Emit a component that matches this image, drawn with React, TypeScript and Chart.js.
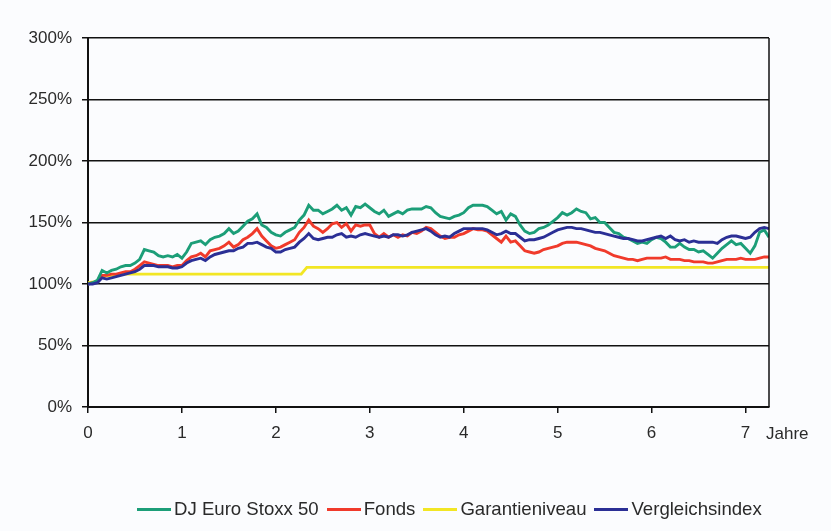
import React, { useEffect, useRef } from "react";
import { Chart, registerables } from "chart.js";

Chart.register(...registerables);

// ---- data ----
const YEARS = [
  0, 0.05, 0.1, 0.15, 0.2, 0.25, 0.3, 0.35, 0.4, 0.45, 0.5, 0.55, 0.6, 0.65, 0.7, 0.75, 0.8, 0.85, 0.9, 0.95,
  1, 1.05, 1.1, 1.15, 1.2, 1.25, 1.3, 1.35, 1.4, 1.45, 1.5, 1.55, 1.6, 1.65, 1.7, 1.75, 1.8, 1.85, 1.9, 1.95,
  2, 2.05, 2.1, 2.15, 2.2, 2.25, 2.3, 2.35, 2.4, 2.45, 2.5, 2.55, 2.6, 2.65, 2.7, 2.75, 2.8, 2.85, 2.9, 2.95,
  3, 3.05, 3.1, 3.15, 3.2, 3.25, 3.3, 3.35, 3.4, 3.45, 3.5, 3.55, 3.6, 3.65, 3.7, 3.75, 3.8, 3.85, 3.9, 3.95,
  4, 4.05, 4.1, 4.15, 4.2, 4.25, 4.3, 4.35, 4.4, 4.45, 4.5, 4.55, 4.6, 4.65, 4.7, 4.75, 4.8, 4.85, 4.9, 4.95,
  5, 5.05, 5.1, 5.15, 5.2, 5.25, 5.3, 5.35, 5.4, 5.45, 5.5, 5.55, 5.6, 5.65, 5.7, 5.75, 5.8, 5.85, 5.9, 5.95,
  6, 6.05, 6.1, 6.15, 6.2, 6.25, 6.3, 6.35, 6.4, 6.45, 6.5, 6.55, 6.6, 6.65, 6.7, 6.75, 6.8, 6.85, 6.9, 6.95,
  7, 7.05, 7.1, 7.15, 7.2, 7.25,
];

const STOXX = [
  100, 101, 103, 111, 109, 111, 112, 114, 115, 115, 117, 120, 128, 127, 126, 123, 122, 123, 122, 124,
  121, 126, 133, 134, 135, 132, 136, 138, 139, 141, 145, 141, 143, 147, 151, 153, 157, 148, 146, 142,
  140, 139, 142, 144, 146, 152, 156, 164, 160, 160, 157, 159, 161, 164, 160, 162, 156, 163, 162, 165,
  162, 159, 157, 160, 155, 157, 159, 157, 160, 161, 161, 161, 163, 162, 158, 155, 154, 153, 155, 156,
  158, 162, 164, 164, 164, 163, 160, 157, 159, 152, 157, 155, 148, 143, 141, 142, 145, 146, 148, 151,
  154, 158, 156, 158, 161, 159, 158, 153, 154, 150, 150, 146, 142, 141, 138, 137, 135, 133, 134, 133,
  136, 138, 137, 134, 130, 130, 133, 130, 128, 128, 126, 127, 124, 121, 125, 129, 132, 135, 132, 133,
  129, 125, 131, 142, 144, 138,
];

const FONDS = [
  100, 101, 102, 107, 107, 108, 108, 109, 110, 110, 112, 115, 118, 117, 116, 115, 115, 115, 114, 115,
  115, 119, 122, 123, 125, 122, 127, 128, 129, 131, 134, 130, 132, 136, 138, 141, 145, 139, 135, 131,
  129, 130, 132, 134, 136, 142, 146, 152, 147, 145, 142, 145, 149, 150, 146, 149, 143, 148, 147, 148,
  148, 141, 138, 141, 138, 140, 138, 140, 139, 142, 141, 143, 146, 145, 142, 139, 137, 138, 138, 140,
  141, 143, 145, 144, 144, 143, 140, 137, 134, 139, 134, 135, 131, 127, 126, 125, 126, 128, 129, 130,
  131, 133, 134, 134, 134, 133, 132, 131, 129, 128, 127, 125, 123, 122, 121, 120, 120, 119, 120, 121,
  121, 121, 121, 122, 120, 120, 120, 119, 119, 118, 118, 118, 117, 117, 118, 119, 120, 120, 120, 121,
  120, 120, 120, 121, 122, 122,
];

const INDEX = [
  100, 100, 101, 105, 104, 105, 106, 107, 108, 109, 110, 112, 115, 115, 115, 114, 114, 114, 113, 113,
  114, 117, 119, 120, 121, 119, 122, 124, 125, 126, 127, 127, 129, 130, 133, 133, 134, 132, 130, 129,
  126, 126, 128, 129, 130, 134, 137, 141, 137, 136, 137, 138, 138, 140, 141, 138, 139, 138, 140, 141,
  140, 139, 138, 139, 138, 140, 140, 139, 140, 142, 143, 144, 145, 143, 140, 138, 139, 138, 141, 143,
  145, 145, 145, 145, 145, 144, 142, 140, 141, 143, 141, 141, 138, 135, 136, 136, 137, 138, 140, 142,
  144, 145, 146, 146, 145, 145, 144, 143, 142, 142, 141, 140, 139, 138, 137, 137, 136, 135, 135, 136,
  137, 138, 139, 137, 139, 136, 135, 136, 134, 135, 134, 134, 134, 134, 133, 136, 138, 139, 139, 138,
  137, 138, 142, 145, 146, 145,
];

const GARANTIE_YEARS = [0, 0.1, 0.13, 0.25, 0.4, 2.27, 2.33, 7.25];
const GARANTIE_VALUES = [101, 102, 106, 107, 108, 108, 113.5, 113.5];

const SERIES_NAMES = ["DJ Euro Stoxx 50", "Fonds", "Garantieniveau", "Vergleichsindex"];
const SERIES_COLORS = ["#1c9e78", "#f03a2b", "#f2e624", "#2b2f95"];

const X_TICKS = [0, 1, 2, 3, 4, 5, 6, 7];
const X_MAX = 7.25;
const X_UNIT = "Jahre";
const Y_TICKS = [0, 50, 100, 150, 200, 250, 300];

const BG = "#fbfcfe";
const TEXT = "#2a2a2a";
const LINE = "#111111";
const FONT = '"Liberation Sans", Arial, sans-serif';

export default function App() {
  const ref = useRef<HTMLCanvasElement>(null);

  useEffect(() => {
    document.body.style.margin = "0";
    document.body.style.background = BG;

    const toXY = (vals: number[], xs: number[]) => vals.map((v, i) => ({ x: xs[i], y: v }));

    const extras = {
      id: "extras",
      afterDraw(chart: any) {
        const { ctx, chartArea, scales } = chart;
        ctx.save();
        ctx.strokeStyle = LINE;
        ctx.lineWidth = 1.5;
        ctx.beginPath();
        ctx.moveTo(chartArea.right, chartArea.top);
        ctx.lineTo(chartArea.right, chartArea.bottom);
        ctx.stroke();
        ctx.fillStyle = TEXT;
        ctx.font = `17px ${FONT}`;
        ctx.textAlign = "left";
        ctx.textBaseline = "middle";
        ctx.fillText(X_UNIT, chartArea.right - 3, scales.x.top + 27);
        ctx.restore();
      },
    };

    const chart = new Chart(ref.current!, {
      type: "line",
      data: {
        datasets: [
          { label: SERIES_NAMES[0], data: toXY(STOXX, YEARS), borderColor: SERIES_COLORS[0], order: 1 },
          { label: SERIES_NAMES[1], data: toXY(FONDS, YEARS), borderColor: SERIES_COLORS[1], order: 2 },
          { label: SERIES_NAMES[2], data: toXY(GARANTIE_VALUES, GARANTIE_YEARS), borderColor: SERIES_COLORS[2], order: 3 },
          { label: SERIES_NAMES[3], data: toXY(INDEX, YEARS), borderColor: SERIES_COLORS[3], order: 0 },
        ].map((d) => ({ ...d, borderWidth: 2.9, pointRadius: 0, tension: 0, fill: false })),
      },
      options: {
        responsive: false,
        animation: false,
        devicePixelRatio: 1,
        layout: { padding: { left: 0, right: 62, top: 38, bottom: 0 } },
        plugins: { legend: { display: false }, tooltip: { enabled: false } },
        scales: {
          x: {
            type: "linear",
            min: 0,
            max: X_MAX,
            afterBuildTicks: (s: any) => {
              s.ticks = X_TICKS.map((v) => ({ value: v }));
            },
            afterFit: (s: any) => {
              s.height = 124;
            },
            grid: { drawOnChartArea: false, drawTicks: true, tickLength: 6, color: LINE, lineWidth: 1.5 },
            border: { display: true, color: LINE, width: 2 },
            ticks: {
              padding: 10,
              color: TEXT,
              font: { family: FONT, size: 17 },
              maxRotation: 0,
              autoSkip: false,
              callback: (v: any) => String(v),
            },
          },
          y: {
            min: 0,
            max: 300,
            afterBuildTicks: (s: any) => {
              s.ticks = Y_TICKS.map((v) => ({ value: v }));
            },
            afterFit: (s: any) => {
              s.width = 88;
            },
            grid: { color: LINE, lineWidth: 1.5, tickLength: 6 },
            border: { display: true, color: LINE, width: 2 },
            ticks: {
              padding: 10,
              color: TEXT,
              font: { family: FONT, size: 17 },
              callback: (v: any) => `${v}%`,
            },
          },
        },
      },
      plugins: [extras],
    });
    return () => chart.destroy();
  }, []);

  return (
    <div style={{ position: "relative", width: 831, height: 531, background: BG, fontFamily: FONT }}>
      <canvas ref={ref} width={831} height={531} style={{ position: "absolute", left: 0, top: 0 }} />
      <div
        style={{
          position: "absolute",
          left: 137,
          top: 498,
          height: 22,
          display: "flex",
          alignItems: "center",
          fontSize: 18.6,
          color: TEXT,
          whiteSpace: "nowrap",
        }}
      >
        {SERIES_NAMES.map((name, i) => (
          <div key={name} style={{ display: "flex", alignItems: "center", marginRight: 8 }}>
            <span style={{ display: "inline-block", width: 34, height: 3, background: SERIES_COLORS[i], marginRight: 3 }} />
            <span>{name}</span>
          </div>
        ))}
      </div>
    </div>
  );
}
